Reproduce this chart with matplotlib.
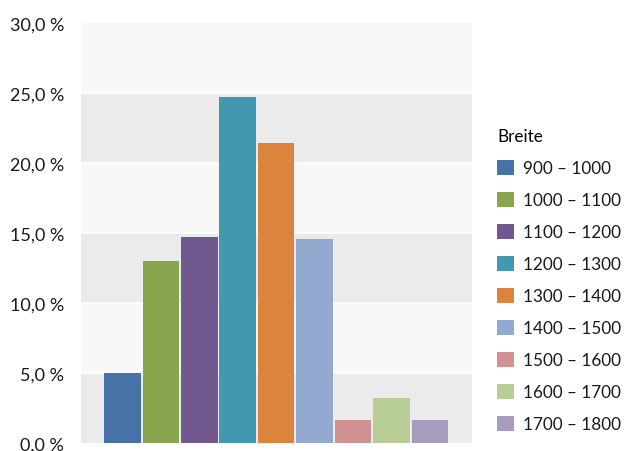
import matplotlib
matplotlib.use('Agg')
import matplotlib.pyplot as plt
from matplotlib.patches import Patch

plt.rcParams['font.family'] = ['Lato', 'DejaVu Sans']

# data
categories = ['900 – 1000', '1000 – 1100', '1100 – 1200', '1200 – 1300', '1300 – 1400',
              '1400 – 1500', '1500 – 1600', '1600 – 1700', '1700 – 1800']
values = [5.0, 13.0, 14.7, 24.7, 21.4, 14.6, 1.65, 3.2, 1.65]
colors = ['#4573A7', '#89A54E', '#71588F', '#4198AF', '#DB843D',
          '#93A9CF', '#D19392', '#B9CD96', '#A99BBD']
yticks = [0, 5, 10, 15, 20, 25, 30]

fig = plt.figure(figsize=(6.3, 4.52), dpi=100)
ax = fig.add_axes([81 / 630, 1 - 444 / 452, 391 / 630, 420 / 452])

# alternating background bands
for i in range(len(yticks) - 1):
    c = '#ebebeb' if i % 2 == 0 else '#f8f8f8'
    ax.axhspan(yticks[i], yticks[i + 1], color=c, lw=0, zorder=0)
for t in yticks[1:-1]:
    ax.axhline(t, color='white', lw=1.2, zorder=1)

x = list(range(len(values)))
ax.bar(x, values, width=0.95, color=colors, zorder=2)

ax.set_xlim(-1.08, 9.1)
ax.set_ylim(0, 30)
ax.set_yticks(yticks)
ax.set_yticklabels(['{:.1f} %'.format(t).replace('.', ',') for t in yticks])
ax.set_xticks([])
ax.tick_params(axis='y', length=0, pad=12, labelsize=13, labelcolor='#1a1a1a')
for s in ax.spines.values():
    s.set_visible(False)

handles = [Patch(facecolor=c, edgecolor='none') for c in colors]
leg = fig.legend(handles, categories, title='Breite', loc='upper left',
                 bbox_to_anchor=(497 / 630, 1 - 129 / 452), frameon=False,
                 fontsize=12.3, title_fontsize=12.3, handlelength=1.0, handleheight=1.0,
                 handletextpad=0.5, labelspacing=0.91, borderpad=0, borderaxespad=0)
leg._legend_box.align = 'left'
for t in leg.get_texts():
    t.set_color('#1a1a1a')

fig.savefig('out.png', dpi=100)
